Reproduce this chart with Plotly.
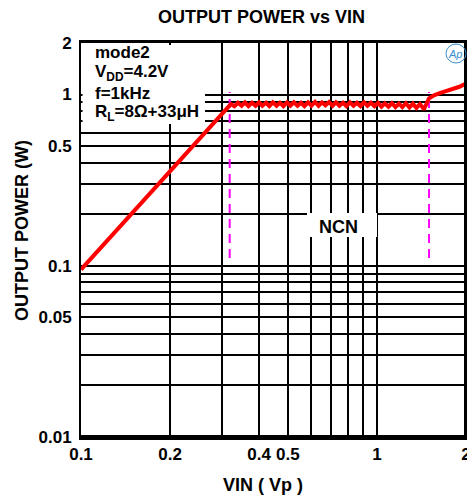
import plotly.graph_objects as go

# ---- data ----
vin = [0.1, 0.2, 0.3, 0.321,
       0.330, 0.339, 0.349, 0.358, 0.368, 0.378, 0.389, 0.400, 0.410, 0.422,
       0.433, 0.445, 0.458, 0.470, 0.483, 0.497, 0.510, 0.524, 0.539, 0.554,
       0.569, 0.585, 0.601, 0.618, 0.635, 0.652, 0.670, 0.689, 0.708, 0.727,
       0.747, 0.768, 0.789, 0.811, 0.833, 0.856, 0.880, 0.904, 0.929, 0.954,
       0.981, 1.008, 1.036, 1.064, 1.094, 1.124, 1.155, 1.187, 1.219, 1.253,
       1.288, 1.323, 1.360, 1.397, 1.436, 1.44,
       1.50, 1.56, 1.63, 1.77, 1.90, 2.0]
pout = [0.095, 0.357, 0.78, 0.88,
        0.855, 0.895, 0.86, 0.90, 0.855, 0.895, 0.86, 0.90, 0.86, 0.895,
        0.855, 0.90, 0.86, 0.895, 0.855, 0.90, 0.86, 0.90, 0.86, 0.895,
        0.855, 0.90, 0.86, 0.905, 0.86, 0.90, 0.865, 0.905, 0.86, 0.90,
        0.86, 0.895, 0.855, 0.90, 0.86, 0.895, 0.855, 0.90, 0.86, 0.895,
        0.855, 0.895, 0.85, 0.89, 0.85, 0.89, 0.845, 0.885, 0.845, 0.89,
        0.84, 0.885, 0.835, 0.88, 0.83, 0.815,
        0.95, 0.99, 1.02, 1.06, 1.11, 1.16]

ncn_bounds = [0.318, 1.5]
ncn_span = [0.111, 1.035]

x_tickvals = [0.1, 0.2, 0.3, 0.4, 0.5, 0.6, 0.7, 0.8, 0.9, 1.0, 2.0]
x_ticktext = ["0.1", "0.2", "", "0.4", "0.5", "", "", "", "", "1", "2"]
y_tickvals = [0.01, 0.02, 0.03, 0.04, 0.05, 0.06, 0.07, 0.08, 0.09,
              0.1, 0.2, 0.3, 0.4, 0.5, 0.6, 0.7, 0.8, 0.9, 1.0, 2.0]
y_ticktext = ["0.01", "", "", "", "0.05", "", "", "", "",
              "0.1", "", "", "", "0.5", "", "", "", "", "1", "2"]

FONT = "Liberation Sans, Arial, sans-serif"

fig = go.Figure()
for xv in ncn_bounds:
    fig.add_trace(go.Scatter(x=[xv, xv], y=ncn_span, mode="lines",
                             line=dict(color="#ff00ff", width=2, dash="9px,6px"),
                             showlegend=False, hoverinfo="skip"))
fig.add_trace(go.Scatter(x=vin, y=pout, mode="lines",
                         line=dict(color="#ff0000", width=4),
                         showlegend=False))

# page body has an 8px margin: figure is placed at (8, 8)
OFF = 8
W, H = 475 - OFF, 503 - OFF
L, R, T, B = 81, 466, 43, 437   # reference pixel coordinates of plot area


def px(x):
    return (x - L) / (R - L)


def py(y):
    return (B - y) / (B - T)


fig.update_layout(
    width=W, height=H,
    margin=dict(l=L - OFF, r=475 - R, t=T - OFF, b=503 - B, autoexpand=False),
    plot_bgcolor="white", paper_bgcolor="white",
    font=dict(family=FONT, color="black"),
    xaxis=dict(type="log", range=[-1, 0.30103], tickvals=x_tickvals, ticktext=x_ticktext,
               showgrid=True, gridcolor="black", gridwidth=2,
               showline=True, linecolor="black", linewidth=3, mirror=True,
               ticks="", ticklabelstandoff=0, automargin=False,
               tickfont=dict(size=17, family=FONT, weight="bold"), zeroline=False),
    yaxis=dict(type="log", range=[-2, 0.30103], tickvals=y_tickvals, ticktext=y_ticktext,
               showgrid=True, gridcolor="black", gridwidth=2,
               showline=True, linecolor="black", linewidth=2, mirror=True,
               ticks="", ticklabelstandoff=4, automargin=False,
               tickfont=dict(size=17, family=FONT, weight="bold"), zeroline=False),
)

shapes = [
    dict(type="rect", xref="paper", yref="paper", x0=px(L + 1.5), x1=px(205), y0=py(124), y1=py(T + 2),
         fillcolor="white", line=dict(width=0), layer="above"),
    dict(type="rect", xref="paper", yref="paper", x0=px(307), x1=px(377), y0=py(237), y1=py(213),
         fillcolor="white", line=dict(width=0), layer="above"),
    dict(type="line", xref="paper", yref="paper", x0=0, x1=1, y0=0, y1=0,
         line=dict(color="black", width=4)),
    dict(type="line", xref="paper", yref="paper", x0=1, x1=1, y0=0, y1=1,
         line=dict(color="black", width=4)),
    dict(type="circle", xref="paper", yref="paper", x0=px(446), x1=px(466), y0=py(63), y1=py(44),
         line=dict(color="#3a8fd0", width=1)),
]
fig.update_layout(shapes=shapes)

ann = []


def text(x, y, s, size=17, xanchor="center", **kw):
    d = dict(x=px(x), y=py(y), xref="paper", yref="paper", text=s, showarrow=False,
             xanchor=xanchor, yanchor="middle",
             font=dict(size=size, family=FONT, color="black", weight="bold"))
    d.update(kw)
    ann.append(d)


text(261, 17, "OUTPUT POWER vs VIN", size=18)
text(263, 485, "VIN ( Vp )", size=18)
text(22, 231, "OUTPUT POWER (W)", size=18, textangle=-90)
text(93, 53, "mode2", xanchor="left")
text(93, 73, "V<sub>DD</sub>=4.2V", xanchor="left")
text(93, 93, "f=1kHz", xanchor="left")
text(93, 113, "R<sub>L</sub>=8Ω+33μH", xanchor="left")
text(338, 227, "NCN", size=18)
ann.append(dict(x=px(455), y=py(54), xref="paper", yref="paper", text="<i>Ap</i>",
                xanchor="center", yanchor="middle",
                showarrow=False, font=dict(size=11, family=FONT, color="#3a8fd0")))
fig.update_layout(annotations=ann)

fig.write_html("out.html")
